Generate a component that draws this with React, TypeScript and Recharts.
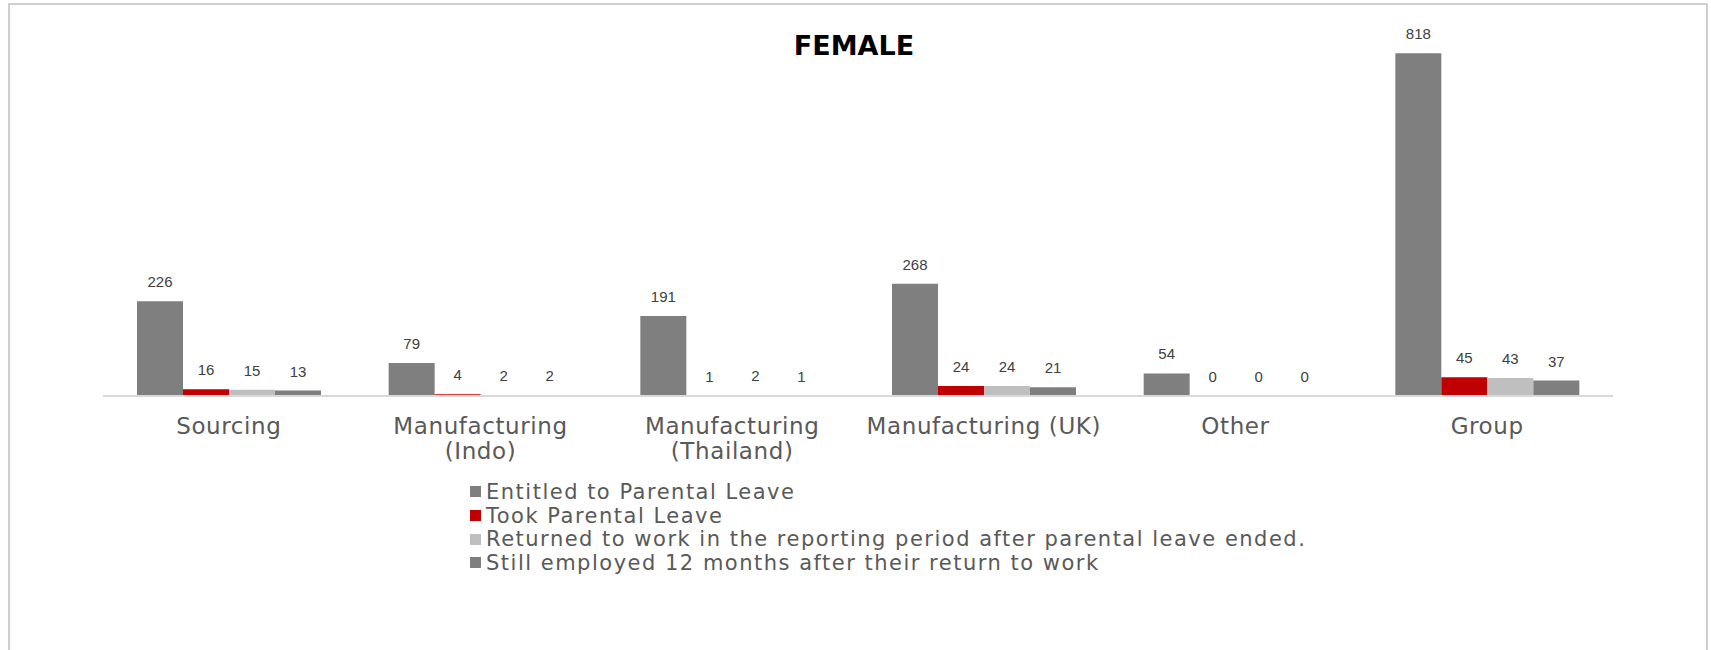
import { Bar, BarChart, LabelList, Legend, XAxis, YAxis } from "recharts";

const CATEGORIES = [
  "Sourcing",
  "Manufacturing\n(Indo)",
  "Manufacturing\n(Thailand)",
  "Manufacturing (UK)",
  "Other",
  "Group",
];
const ENTITLED = [226, 79, 191, 268, 54, 818];
const TOOK = [16, 4, 1, 24, 0, 45];
const RETURNED = [15, 2, 2, 24, 0, 43];
const STILL = [13, 2, 1, 21, 0, 37];

const SERIES = [
  { key: "entitled", name: "Entitled to Parental Leave", color: "#7f7f7f" },
  { key: "took", name: "Took Parental Leave", color: "#c00000" },
  {
    key: "returned",
    name: "Returned to work in the reporting period after parental leave ended.",
    color: "#bfbfbf",
  },
  { key: "still", name: "Still employed 12 months after their return to work", color: "#7f7f7f" },
];

const data = CATEGORIES.map((c, i) => ({
  category: c,
  entitled: ENTITLED[i],
  took: TOOK[i],
  returned: RETURNED[i],
  still: STILL[i],
}));

const TEXT = "#595959";

function CategoryTick({ x, y, payload }: any) {
  const lines = String(payload.value).split("\n");
  return (
    <text
      x={x}
      y={y}
      textAnchor="middle"
      fill={TEXT}
      fontFamily="DejaVu Sans"
      fontSize={23}
      letterSpacing={0.6}
    >
      {lines.map((l, i) => (
        <tspan key={i} x={x} dy={i === 0 ? 38 : 25}>
          {l}
        </tspan>
      ))}
    </text>
  );
}

function LegendList({ payload }: any) {
  // keep series order, not the alphabetical default
  const items = SERIES.map((s) => (payload ?? []).find((p: any) => p.value === s.name)).filter(Boolean);
  return (
    <div style={{ height: 95 }}>
      {items.map((p: any) => (
        <div
          key={p.value}
          style={{
            display: "flex",
            alignItems: "center",
            height: 23.7,
            fontFamily: "DejaVu Sans",
            fontSize: 21,
            letterSpacing: 1.5,
            color: TEXT,
            whiteSpace: "nowrap",
          }}
        >
          <span
            style={{
              display: "inline-block",
              width: 11,
              height: 11,
              background: p.color,
              marginRight: 5,
            }}
          />
          {p.value}
        </div>
      ))}
    </div>
  );
}

export default function App() {
  return (
    <div
      style={{
        position: "fixed",
        left: 0,
        top: 0,
        width: 1711,
        height: 650,
        overflow: "hidden",
        background: "#fff",
      }}
    >
      <div
        style={{
          position: "absolute",
          left: 8,
          top: 3,
          width: 1700,
          height: 700,
          border: "2px solid #cfcfcf",
          boxSizing: "border-box",
        }}
      />
      <div
        style={{
          position: "absolute",
          left: 0,
          top: 31.7,
          width: 1708,
          textAlign: "center",
          fontFamily: "DejaVu Sans",
          fontWeight: "bold",
          fontSize: 27,
          lineHeight: "27px",
          color: "#000",
        }}
      >
        FEMALE
      </div>
      <div style={{ position: "absolute", left: 0, top: 0 }}>
        <BarChart
          width={1711}
          height={650}
          data={data}
          margin={{ top: 19, right: 98, bottom: 99, left: 103 }}
          barGap={0}
        >
          <XAxis
            dataKey="category"
            axisLine={{ stroke: "#d9d9d9", strokeWidth: 2 }}
            tickLine={false}
            tickSize={0}
            tickMargin={0}
            height={60}
            interval={0}
            tick={<CategoryTick />}
          />
          <YAxis hide domain={[0, 900]} />
          <Legend
            verticalAlign="bottom"
            align="left"
            content={<LegendList />}
            wrapperStyle={{ left: 470, top: 480, bottom: "auto", width: "auto" }}
          />
          {SERIES.map((s) => (
            <Bar
              key={s.key}
              dataKey={s.key}
              name={s.name}
              fill={s.color}
              barSize={46}
              minPointSize={0.01}
              isAnimationActive={false}
            >
              <LabelList
                dataKey={s.key}
                position="top"
                offset={14}
                fill="#404040"
                fontSize={15}
                fontFamily="Liberation Sans, Arial"
              />
            </Bar>
          ))}
        </BarChart>
      </div>
    </div>
  );
}
